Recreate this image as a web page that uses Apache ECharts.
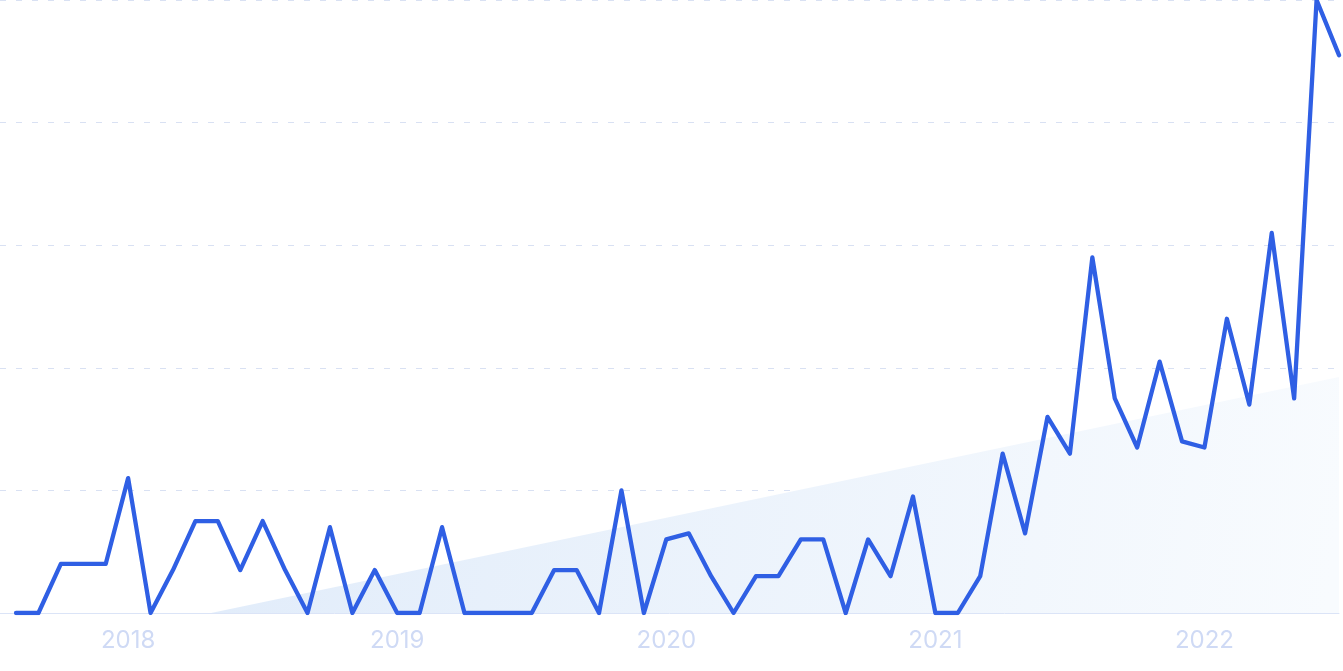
<!DOCTYPE html>
<html>
<head>
<meta charset="utf-8">
<script src="https://cdn.jsdelivr.net/npm/echarts@6/dist/echarts.min.js"></script>
<style>
html,body{margin:0;padding:0;background:#fff;}
#chart{width:1343px;height:671px;}
</style>
</head>
<body>
<div id="chart"></div>
<script>
// Monthly categories (Aug 2017 - Jul 2022)
var months = [
  '2017-08','2017-09','2017-10','2017-11','2017-12',
  '2018-01','2018-02','2018-03','2018-04','2018-05','2018-06','2018-07','2018-08','2018-09','2018-10','2018-11','2018-12',
  '2019-01','2019-02','2019-03','2019-04','2019-05','2019-06','2019-07','2019-08','2019-09','2019-10','2019-11','2019-12',
  '2020-01','2020-02','2020-03','2020-04','2020-05','2020-06','2020-07','2020-08','2020-09','2020-10','2020-11','2020-12',
  '2021-01','2021-02','2021-03','2021-04','2021-05','2021-06','2021-07','2021-08','2021-09','2021-10','2021-11','2021-12',
  '2022-01','2022-02','2022-03','2022-04','2022-05','2022-06','2022-07'
];
var values = [
  0, 0, 8, 8, 8,
  22, 0, 7, 15, 15, 7, 15, 7, 0, 14, 0, 7,
  0, 0, 14, 0, 0, 0, 0, 7, 7, 0, 20, 0,
  12, 13, 6, 0, 6, 6, 12, 12, 0, 12, 6, 19,
  0, 0, 6, 26, 13, 32, 26, 58, 35, 27, 41, 28,
  27, 48, 34, 62, 35, 100, 91
];
// Trend band (month position, value)
var trendPos = [8.7, 59];
var trendVal = [0, 38.5];
var tickLabels = ['2018', '2019', '2020', '2021', '2022'];

var tickPos = tickLabels.map(function (y) { return months.indexOf(y + '-01'); });
var lineData = values.map(function (v, i) { return [i, v]; });
var trendData = trendPos.map(function (p, i) { return [p, trendVal[i]]; });

var chart = echarts.init(document.getElementById('chart'));
chart.setOption({
  animation: false,
  grid: { left: 0, right: 4, top: 0, bottom: 58, containLabel: false },
  xAxis: {
    type: 'value',
    min: -0.714,
    max: months.length - 1,
    axisLine: { show: true, lineStyle: { color: '#dbe4f7', width: 1 } },
    axisTick: { show: false },
    splitLine: { show: false },
    axisLabel: {
      customValues: tickPos,
      formatter: function (v) {
        var k = tickPos.indexOf(Math.round(v));
        return k >= 0 ? tickLabels[k] : '';
      },
      color: '#cfdaf5',
      fontFamily: 'Inter',
      fontSize: 24,
      margin: 16
    }
  },
  yAxis: {
    type: 'value',
    min: 0,
    max: 100,
    interval: 20,
    axisLine: { show: false },
    axisTick: { show: false },
    axisLabel: { show: false },
    splitLine: { show: true, lineStyle: { color: '#d9e1f3', type: [6, 10], width: 1 } }
  },
  series: [
    {
      type: 'line',
      data: trendData,
      symbol: 'none',
      silent: true,
      lineStyle: { width: 0, opacity: 0 },
      areaStyle: {
        opacity: 1,
        color: new echarts.graphic.LinearGradient(0, 0, 1, 0.6, [
          { offset: 0, color: '#e1ecfa' },
          { offset: 1, color: '#f8fbfe' }
        ])
      },
      z: 1
    },
    {
      type: 'line',
      data: lineData,
      symbol: 'none',
      smooth: false,
      lineStyle: { color: '#2f5fe4', width: 4.3, cap: 'round', join: 'round' },
      z: 3
    }
  ]
});
</script>
</body>
</html>
